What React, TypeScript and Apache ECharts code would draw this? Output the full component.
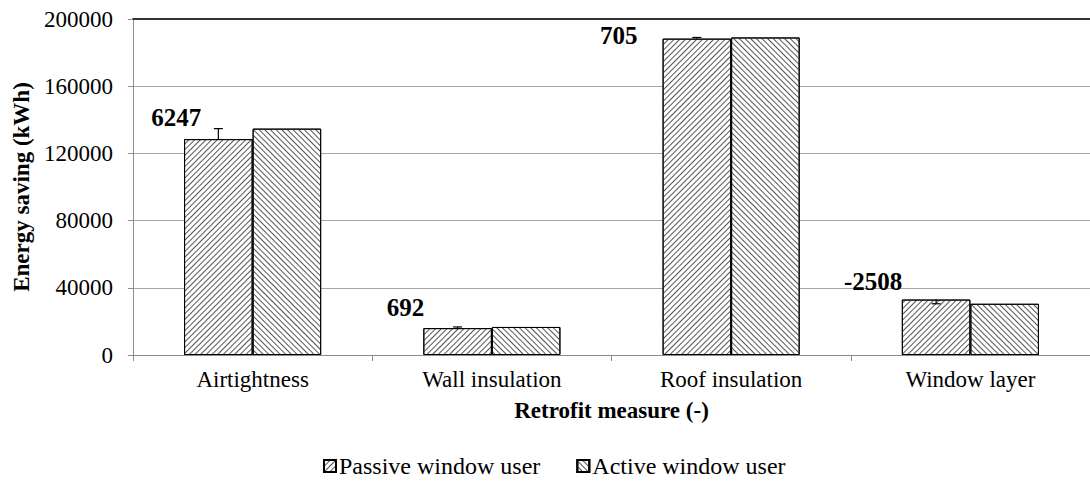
import React, { useEffect, useRef } from "react";
import * as echarts from "echarts";

const categories = ["Airtightness", "Wall insulation", "Roof insulation", "Window layer"];
const passiveValues = [128500, 16000, 188300, 33000];
const activeValues = [134747, 16692, 189005, 30492];
const yTicks = { min: 0, max: 200000, interval: 40000 };
const seriesNames = ["Passive window user", "Active window user"];

const FONT = "Liberation Serif";
const labelOffsets = [
  [-42, -9],
  [-52, -8],
  [-78, 9],
  [-63, -6],
];
const CAT_GAP = 0.427;

const hatch = (rotation: number) => ({
  symbol: "rect",
  symbolSize: 1,
  dashArrayX: [1, 0],
  dashArrayY: [1, 2.2],
  rotation,
  color: "#555",
  backgroundColor: "#fff",
});

export default function App() {
  const ref = useRef<HTMLDivElement>(null);
  useEffect(() => {
    if (!ref.current) return;
    const chart = echarts.init(ref.current, undefined, { renderer: "svg" });
    const diffs = passiveValues.map((p, i) => activeValues[i] - p);
    chart.setOption({
      animation: false,
      backgroundColor: "#fff",
      textStyle: { fontFamily: FONT, color: "#000" },
      grid: { left: 133, right: -7, top: 19, bottom: 136 },
      legend: {
        bottom: 8,
        left: 318,
        itemWidth: 12,
        itemHeight: 12,
        itemGap: 36,
        icon: "rect",
        textStyle: { fontFamily: FONT, fontSize: 24, color: "#000", padding: [0, 0, 0, -2] },
        data: seriesNames,
      },
      xAxis: [
        {
          type: "category",
          data: categories,
          axisLine: { lineStyle: { color: "#8c8c8c", width: 1 } },
          axisTick: { show: true, length: 6, lineStyle: { color: "#8c8c8c" } },
          axisLabel: { fontFamily: FONT, fontSize: 23, color: "#000", margin: 13 },
          name: "Retrofit measure (-)",
          nameLocation: "middle",
          nameGap: 44,
          nameTextStyle: { fontFamily: FONT, fontSize: 23, fontWeight: "bold", color: "#000" },
        },
        {
          type: "category",
          position: "top",
          data: categories,
          axisLine: { show: true, lineStyle: { color: "#333", width: 2 } },
          axisTick: { show: false },
          axisLabel: { show: false },
        },
      ],
      yAxis: {
        type: "value",
        min: yTicks.min,
        max: yTicks.max,
        interval: yTicks.interval,
        axisLine: { show: true, lineStyle: { color: "#8c8c8c" } },
        axisTick: { show: true, length: 5, lineStyle: { color: "#8c8c8c" } },
        axisLabel: {
          fontFamily: FONT,
          fontSize: 23,
          color: "#000",
          margin: 20,
          formatter: (v: number) => String(v),
        },
        splitLine: { show: true, lineStyle: { color: "#a6a6a6", width: 1 } },
        name: "Energy saving (kWh)",
        nameLocation: "middle",
        nameGap: 98,
        nameTextStyle: { fontFamily: FONT, fontSize: 23, fontWeight: "bold", color: "#000" },
      },
      series: [
        {
          name: seriesNames[0],
          type: "bar",
          barGap: "0%",
          barCategoryGap: (CAT_GAP * 100).toFixed(1) + "%",
          itemStyle: { color: "#fff", borderColor: "#000", borderWidth: 1, decal: hatch(-Math.PI / 4) },
          data: passiveValues.map((v, i) => ({
            value: v,
            label: {
              show: true,
              position: "top",
              distance: 0,
              offset: labelOffsets[i],
              formatter: String(diffs[i]),
              fontFamily: FONT,
              fontSize: 25,
              fontWeight: "bold",
              color: "#000",
            },
          })),
        },
        {
          name: seriesNames[1],
          type: "bar",
          barGap: "0%",
          barCategoryGap: (CAT_GAP * 100).toFixed(1) + "%",
          itemStyle: { color: "#fff", borderColor: "#000", borderWidth: 1, decal: hatch(Math.PI / 4) },
          data: activeValues,
        },
        {
          type: "custom",
          z: 10,
          silent: true,
          encode: { x: 0, y: [1, 2] },
          data: passiveValues.map((p, i) => [i, p, activeValues[i]]),
          renderItem: (params: any, api: any) => {
            const c = api.value(0);
            const p = api.coord([c, api.value(1)]);
            const a = api.coord([c, api.value(2)]);
            const bw = (api.size([1, 0])[0] * (1 - CAT_GAP)) / 2;
            const x = p[0] - bw / 2;
            const st = { stroke: "#000", lineWidth: 1.2 };
            return {
              type: "group",
              children: [
                { type: "line", shape: { x1: x, y1: p[1], x2: x, y2: a[1] }, style: st },
                { type: "line", shape: { x1: x - 4.5, y1: a[1], x2: x + 4.5, y2: a[1] }, style: st },
              ],
            };
          },
        },
      ],
    });
    return () => chart.dispose();
  }, []);
  return <div ref={ref} style={{ width: 1090, height: 491, position: "absolute", left: 0, top: 0 }} />;
}
